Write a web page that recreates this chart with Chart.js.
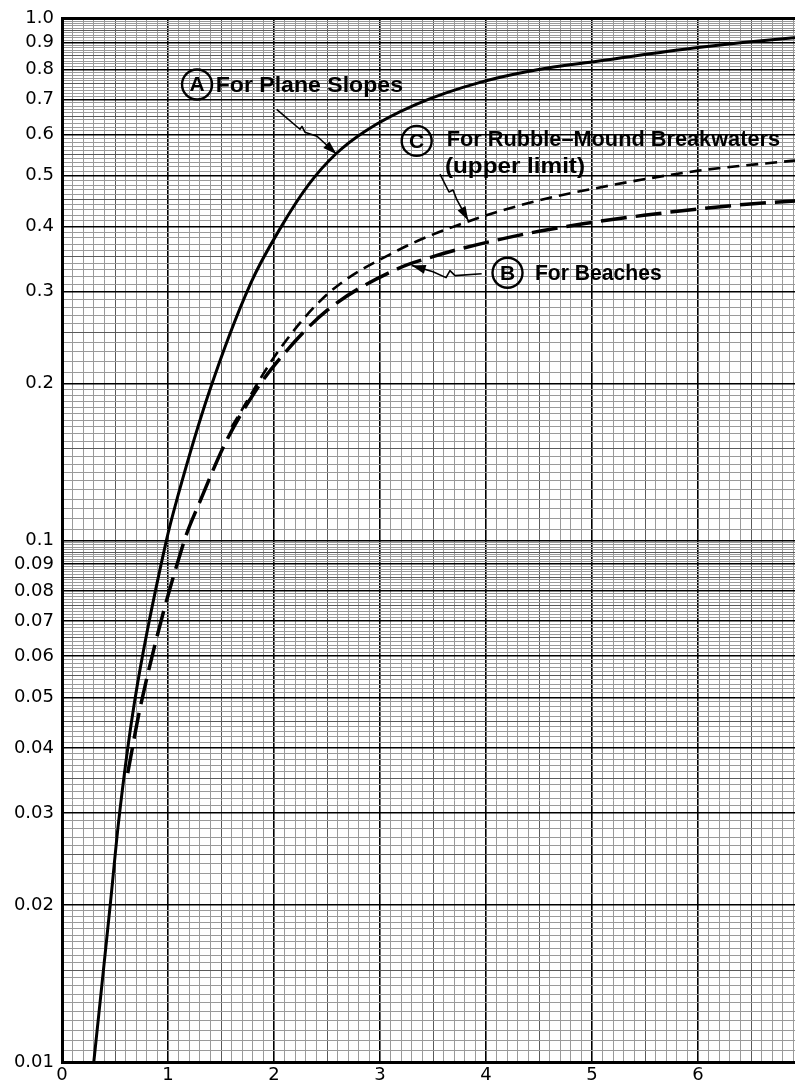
<!DOCTYPE html>
<html><head><meta charset="utf-8">
<script src="https://cdn.jsdelivr.net/npm/chart.js@4/dist/chart.umd.min.js"></script>
<style>
html,body{margin:0;padding:0;background:#fff;overflow:hidden;width:795px;height:1086px;}
#wrap{position:relative;width:830px;height:1086px;}
canvas{display:block;}
</style></head><body>
<div id="wrap"><canvas id="c" width="830" height="1086"></canvas></div>
<script>
// ---- Tick labels ----
const xTickValues = [0, 1, 2, 3, 4, 5, 6, 7];
const xTickLabels = ['0', '1', '2', '3', '4', '5', '6', '7'];
const yMajorValues = [0.01,0.02,0.03,0.04,0.05,0.06,0.07,0.08,0.09,0.1,0.2,0.3,0.4,0.5,0.6,0.7,0.8,0.9,1.0];
const yMajorLabels = ['0.01','0.02','0.03','0.04','0.05','0.06','0.07','0.08','0.09','0.1','0.2','0.3','0.4','0.5','0.6','0.7','0.8','0.9','1.0'];

// ---- Curve A: For Plane Slopes (solid) ----
const curveA_x = [0.300, 0.455, 0.535, 0.685, 0.985, 1.09, 1.385, 1.78, 2.07, 2.33, 2.58, 2.86, 3.33, 3.96, 4.58, 5.05, 5.96, 6.88, 7.0];
const curveA_y = [0.0100, 0.0200, 0.0290, 0.0491, 0.100, 0.121, 0.1916, 0.311, 0.400, 0.482, 0.550, 0.609, 0.684, 0.757, 0.805, 0.829, 0.879, 0.919, 0.922];

// ---- Curve B: For Beaches (long dashes) ----
const curveB_x = [0.62, 0.75, 1.155, 1.296, 1.55, 1.83, 2.03, 2.5, 3.17, 3.5, 3.8, 4.43, 4.93, 5.49, 6.05, 6.46, 6.88, 7.0];
const curveB_y = [0.0358, 0.0491, 0.100, 0.118, 0.155, 0.194, 0.220, 0.276, 0.332, 0.350, 0.364, 0.389, 0.405, 0.420, 0.433, 0.441, 0.447, 0.448];

// ---- Curve C: For Rubble-Mound Breakwaters (upper limit) (short dashes) ----
const curveC_x = [1.6, 2.03, 2.5, 3.17, 3.82, 4.43, 5.05, 5.99, 6.88, 7.0];
const curveC_y = [0.165, 0.229, 0.296, 0.360, 0.408, 0.445, 0.474, 0.511, 0.534, 0.537];

// ---- Annotation texts ----
const labelTexts = ['For Plane Slopes', 'For Rubble\u2013Mound Breakwaters', '(upper limit)', 'For Beaches'];
const circleLetters = ['A', 'C', 'B'];

// ---- graph-paper grid (style) ----
const yGridValues = [], yGridKind = [];
[0.01, 0.1].forEach(dec => {
  for (let k = 100; k < 1000; k += (k < 200 ? 5 : 10)) {
    yGridValues.push(parseFloat((dec * k / 100).toPrecision(8)));
    yGridKind.push(k % 100 === 0 ? 2 : (k % 50 === 0 ? 1 : 0));
  }
});
yGridValues.push(1); yGridKind.push(3);

const xGridValues = [], xGridKind = [];
for (let n = 0; n <= 70; n++) {
  xGridValues.push(n / 10);
  xGridKind.push(n % 10 === 0 ? 2 : (n % 5 === 0 ? 1 : 0));
}

function pts(xs, ys) { return xs.map((x, i) => ({ x: x, y: ys[i] })); }

const kindColor = ['#9a9a9a', '#5a5a5a', '#000', '#000'];
const kindWidth = [1, 1, 1.6, 3];

// annotation layout in data coordinates
const circles = [
  { letter: circleLetters[0], x: 1.274, y: 0.7483 },
  { letter: circleLetters[1], x: 3.346, y: 0.5833 },
  { letter: circleLetters[2], x: 4.203, y: 0.3260 }
];
const texts = [
  { t: labelTexts[0], x0: 1.45, x1: 3.217, y: 0.7483 },
  { t: labelTexts[1], x0: 3.629, x1: 6.774, y: 0.5877 },
  { t: labelTexts[2], x0: 3.613, x1: 4.934, y: 0.5227 },
  { t: labelTexts[3], x0: 4.462, x1: 5.658, y: 0.3260 }
];
const leaders = [
  [[2.025,0.6703],[2.245,0.6141],[2.264,0.6220],[2.292,0.6061],[2.406,0.5955],[2.591,0.5500]],
  [[3.566,0.5039],[3.651,0.4655],[3.689,0.4696],[3.726,0.4495],[3.833,0.4104]],
  [[3.959,0.3246],[3.708,0.3218],[3.660,0.3290],[3.623,0.3190],[3.500,0.3275],[3.299,0.3367]]
];

const annotPlugin = {
  id: 'annot',
  afterDatasetsDraw(chart) {
    const ctx = chart.ctx, xs = chart.scales.x, ys = chart.scales.y;
    const px = v => xs.getPixelForValue(v), py = v => ys.getPixelForValue(v);
    ctx.save();
    ctx.fillStyle = '#000'; ctx.strokeStyle = '#000';
    // circles
    circles.forEach(c => {
      const cx = px(c.x), cy = py(c.y);
      ctx.beginPath(); ctx.lineWidth = 2.4; ctx.arc(cx, cy, 15, 0, Math.PI * 2); ctx.stroke();
      ctx.font = 'bold 21px "Liberation Sans", Arial, sans-serif';
      ctx.textAlign = 'center'; ctx.textBaseline = 'middle';
      ctx.fillText(c.letter, cx, cy + 1);
    });
    // texts
    texts.forEach(t => {
      const x0 = px(t.x0), x1 = px(t.x1), cy = py(t.y);
      ctx.font = 'bold 22px "Liberation Sans", Arial, sans-serif';
      ctx.textAlign = 'left'; ctx.textBaseline = 'middle';
      const w = ctx.measureText(t.t).width;
      ctx.save();
      ctx.translate(x0, cy + 1);
      ctx.scale((x1 - x0) / w, 1);
      ctx.fillText(t.t, 0, 0);
      ctx.restore();
    });
    // leaders with arrowheads
    leaders.forEach(L => {
      const P = L.map(p => [px(p[0]), py(p[1])]);
      ctx.beginPath(); ctx.lineWidth = 1.6; ctx.lineJoin = 'round';
      ctx.moveTo(P[0][0], P[0][1]);
      for (let i = 1; i < P.length; i++) ctx.lineTo(P[i][0], P[i][1]);
      ctx.stroke();
      const a = P[P.length - 2], b = P[P.length - 1];
      const ang = Math.atan2(b[1] - a[1], b[0] - a[0]);
      ctx.beginPath();
      ctx.moveTo(b[0], b[1]);
      ctx.lineTo(b[0] - 14 * Math.cos(ang) + 4.5 * Math.sin(ang), b[1] - 14 * Math.sin(ang) - 4.5 * Math.cos(ang));
      ctx.lineTo(b[0] - 14 * Math.cos(ang) - 4.5 * Math.sin(ang), b[1] - 14 * Math.sin(ang) + 4.5 * Math.cos(ang));
      ctx.closePath(); ctx.fill();
    });
    ctx.restore();
  }
};

const tickFont = { family: '"DejaVu Sans", sans-serif', size: 18 };

new Chart(document.getElementById('c'), {
  type: 'line',
  data: {
    datasets: [
      { label: 'A', data: pts(curveA_x, curveA_y), borderColor: '#000', borderWidth: 3, pointRadius: 0, cubicInterpolationMode: 'monotone', fill: false },
      { label: 'B', data: pts(curveB_x, curveB_y), borderColor: '#000', borderWidth: 3.5, borderDash: [26, 9], pointRadius: 0, cubicInterpolationMode: 'monotone', fill: false },
      { label: 'C', data: pts(curveC_x, curveC_y), borderColor: '#000', borderWidth: 2.6, borderDash: [12, 7], pointRadius: 0, cubicInterpolationMode: 'monotone', fill: false }
    ]
  },
  options: {
    responsive: false, animation: false,
    layout: { padding: { top: 14, right: 26, bottom: 0, left: 0 } },
    plugins: { legend: { display: false }, tooltip: { enabled: false } },
    scales: {
      x: {
        type: 'linear', min: 0, max: 7,
        afterBuildTicks: s => { s.ticks = xGridValues.map(v => ({ value: v })); },
        afterFit: s => { s.height = 24; },
        ticks: {
          autoSkip: false, maxRotation: 0, padding: 3, color: '#000', font: tickFont,
          callback: (v) => { const i = xTickValues.findIndex(t => Math.abs(t - v) < 1e-6); return i >= 0 ? xTickLabels[i] : ''; }
        },
        grid: {
          drawTicks: false,
          color: c => kindColor[xGridKind[c.index] || 0],
          lineWidth: c => kindWidth[xGridKind[c.index] || 0]
        },
        border: { display: true, color: '#000', width: 3 }
      },
      y: {
        type: 'logarithmic', min: 0.01, max: 1,
        afterBuildTicks: s => { s.ticks = yGridValues.map(v => ({ value: v })); },
        afterFit: s => { s.width = 62; },
        ticks: {
          autoSkip: false, padding: 8, color: '#000', font: tickFont,
          callback: (v) => { const i = yMajorValues.findIndex(t => Math.abs(t - v) < t * 1e-6); return i >= 0 ? yMajorLabels[i] : ''; }
        },
        grid: {
          drawTicks: false,
          color: c => kindColor[yGridKind[c.index] || 0],
          lineWidth: c => kindWidth[yGridKind[c.index] || 0]
        },
        border: { display: true, color: '#000', width: 3 }
      }
    }
  },
  plugins: [annotPlugin]
});
</script>
</body></html>
